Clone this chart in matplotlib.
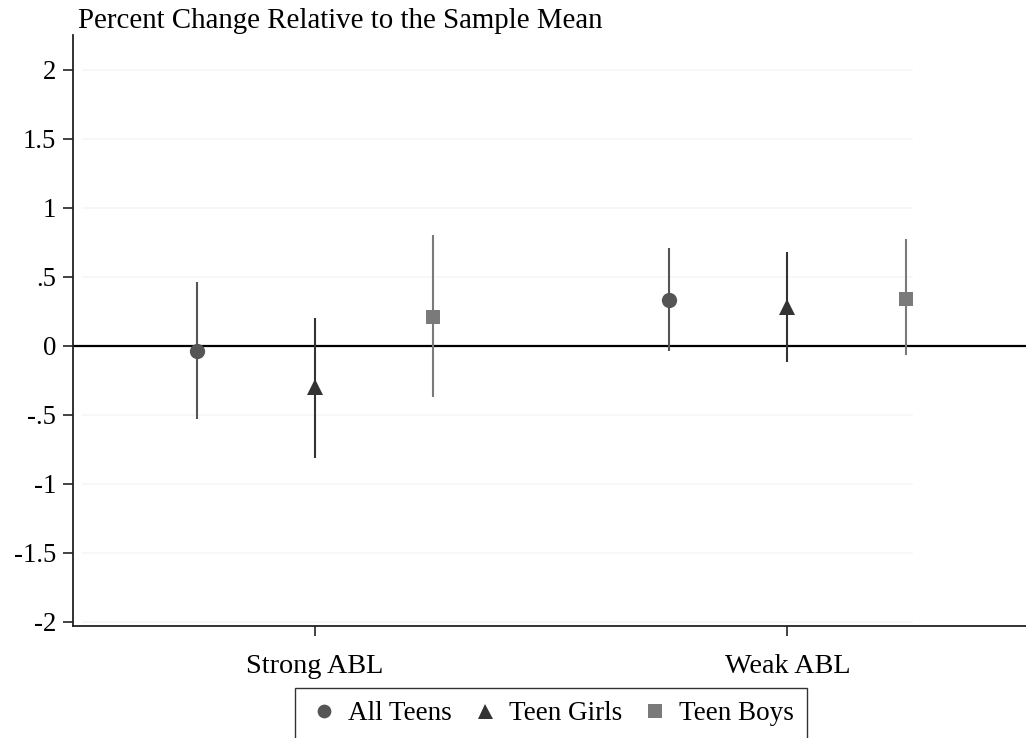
import matplotlib
matplotlib.use("Agg")
import matplotlib.pyplot as plt
import numpy as np

# Groups on the x axis and estimates per subgroup
categories = ["Strong ABL", "Weak ABL"]
series_names = ["All Teens", "Teen Girls", "Teen Boys"]

estimates = {
    "All Teens":  [-0.04, 0.33],
    "Teen Girls": [-0.30, 0.28],
    "Teen Boys":  [0.21, 0.34],
}
ci_low = {
    "All Teens":  [-0.53, -0.04],
    "Teen Girls": [-0.81, -0.12],
    "Teen Boys":  [-0.37, -0.07],
}
ci_high = {
    "All Teens":  [0.46, 0.71],
    "Teen Girls": [0.20, 0.68],
    "Teen Boys":  [0.80, 0.77],
}

y_ticks = [2, 1.5, 1, 0.5, 0, -0.5, -1, -1.5, -2]
y_tick_labels = ["2", "1.5", "1", ".5", "0", "-.5", "-1", "-1.5", "-2"]

offsets = {"All Teens": -0.25, "Teen Girls": 0.0, "Teen Boys": 0.25}
markers = {"All Teens": "o", "Teen Girls": "^", "Teen Boys": "s"}
msizes = {"All Teens": 11, "Teen Girls": 12, "Teen Boys": 10.5}
colors = {"All Teens": "#555555", "Teen Girls": "#333333", "Teen Boys": "#7a7a7a"}

plt.rcParams["font.family"] = ["Liberation Serif", "DejaVu Serif"]

fig = plt.figure(figsize=(10.26, 7.38), dpi=100)
ax = fig.add_axes([73 / 1026, 1 - 626 / 738, 1 - 73 / 1026, (626 - 35) / 738])

base = np.arange(1, len(categories) + 1)

# Very faint horizontal grid
for t in y_ticks:
    ax.axhline(t, color="#f6f6f6", lw=1.2, zorder=0, xmin=0.01, xmax=0.88)

ax.axhline(0, color="black", lw=1.6, zorder=2)

handles = []
for name in series_names:
    x = base + offsets[name]
    y = np.array(estimates[name])
    lo = np.array(ci_low[name])
    hi = np.array(ci_high[name])
    ax.vlines(x, lo, hi, color=colors[name], lw=1.5, zorder=3)
    h, = ax.plot(x, y, linestyle="none", marker=markers[name],
                 markersize=msizes[name], color=colors[name],
                 markeredgewidth=0, zorder=4, label=name)
    handles.append(h)

ax.set_xlim(0.488, 2.505)
ax.set_ylim(-2.03, 2.25)
ax.set_xticks(base)
ax.set_xticklabels(categories, fontsize=20.3)
ax.set_yticks(y_ticks)
ax.set_yticklabels(y_tick_labels, fontsize=19.3)
ax.tick_params(axis="both", direction="out", length=7, width=1.2, colors="#222222",
               labelcolor="black")
ax.tick_params(axis="x", pad=13)
ax.tick_params(axis="y", pad=5)

for s in ["top", "right"]:
    ax.spines[s].set_visible(False)
for s in ["left", "bottom"]:
    ax.spines[s].set_linewidth(1.3)
    ax.spines[s].set_color("#222222")

fig.text(78 / 1026, 1 - 28 / 738, "Percent Change Relative to the Sample Mean",
         fontsize=20.8, ha="left", va="baseline")

leg = fig.legend(handles=handles, loc="upper center",
                 bbox_to_anchor=(551 / 1026, 1 - 688 / 738), ncol=3,
                 fontsize=19.5, frameon=True, fancybox=False,
                 handletextpad=0.3, columnspacing=0.6, handlelength=1.2,
                 borderpad=0.48, borderaxespad=0, markerscale=0.9)
leg.get_frame().set_edgecolor("black")
leg.get_frame().set_linewidth(1.0)

fig.savefig("out.png", dpi=100)
